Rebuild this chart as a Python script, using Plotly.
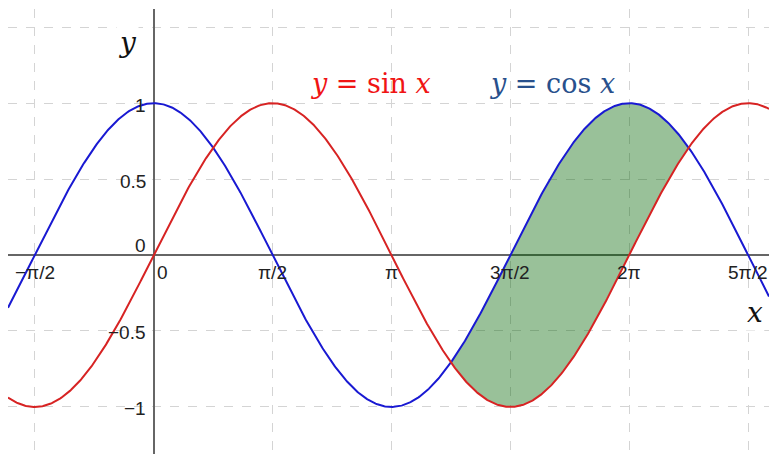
import numpy as np
import plotly.graph_objects as go

# Tick positions (multiples of pi/2) and their labels
x_ticks = [-np.pi / 2, 0, np.pi / 2, np.pi, 3 * np.pi / 2, 2 * np.pi, 5 * np.pi / 2]
x_tick_labels = ["\u2212\u03c0/2", "0", "\u03c0/2", "\u03c0", "3\u03c0/2", "2\u03c0", "5\u03c0/2"]
y_ticks = [1.5, 1, 0.5, 0, -0.5, -1]
y_tick_labels = {1: "1", 0.5: "0.5", 0: "0", -0.5: "\u22120.5", -1: "\u22121"}

# Curve sampling and the shaded band where cos x >= sin x
x_range = [-1.925, 8.13]
y_range = [-1.31, 1.62]
shade_start, shade_end = 5 * np.pi / 4, 9 * np.pi / 4

xs = np.linspace(x_range[0], x_range[1], 800)
xf = np.linspace(shade_start, shade_end, 300)

fig = go.Figure()

# Shaded region between the two curves
fig.add_trace(go.Scatter(
    x=np.concatenate([xf, xf[::-1]]),
    y=np.concatenate([np.cos(xf), np.sin(xf[::-1])]),
    fill="toself", fillcolor="rgba(0,100,0,0.4)",
    line=dict(width=0), mode="lines", hoverinfo="skip", showlegend=False,
))
fig.add_trace(go.Scatter(x=xs, y=np.cos(xs), mode="lines",
                         line=dict(color="rgb(25,25,210)", width=2), showlegend=False))
fig.add_trace(go.Scatter(x=xs, y=np.sin(xs), mode="lines",
                         line=dict(color="rgb(215,35,35)", width=2), showlegend=False))

tick_font = dict(family="Liberation Sans, Arial", size=19, color="#222")
annotations = []
for v, t in zip(x_ticks, x_tick_labels):
    annotations.append(dict(x=v, y=0, xref="x", yref="y", text=t, showarrow=False,
                            font=tick_font, yshift=-17,
                            xshift=9 if v == 0 else 0))
for v, t in y_tick_labels.items():
    annotations.append(dict(x=0, y=v, xref="x", yref="y", text=t, showarrow=False,
                            font=tick_font, xanchor="right", xshift=-6,
                            yshift=10 if v == 0 else -2))

math_font = "DejaVu Serif, serif"
annotations += [
    dict(x=-0.35, y=1.40, xref="x", yref="y", text="<i>y</i>", showarrow=False,
         font=dict(family=math_font, size=28, color="#111"), bgcolor="white"),
    dict(x=7.95, y=-0.38, xref="x", yref="y", text="<i>x</i>", showarrow=False,
         font=dict(family=math_font, size=28, color="#111"), bgcolor="white"),
    dict(x=2.87, y=1.13, xref="x", yref="y", text="<i>y</i> = sin <i>x</i>", showarrow=False,
         font=dict(family=math_font, size=27, color="rgb(240,20,20)")),
    dict(x=5.27, y=1.13, xref="x", yref="y", text="<i>y</i> = cos <i>x</i>", showarrow=False,
         font=dict(family=math_font, size=27, color="rgb(40,80,140)")),
]

axis_common = dict(showgrid=True, gridcolor="#d4d4d4", gridwidth=1, griddash="dash",
                   zeroline=True, zerolinecolor="#666", zerolinewidth=1.5,
                   showticklabels=False, ticks="", showline=False, fixedrange=True)

fig.update_layout(
    width=769, height=454,
    margin=dict(l=8, r=0, t=9, b=0),
    paper_bgcolor="white", plot_bgcolor="white",
    xaxis=dict(range=x_range, tickvals=x_ticks, **axis_common),
    yaxis=dict(range=y_range, tickvals=y_ticks, **axis_common),
    annotations=annotations,
)

fig.write_html("out.html")
